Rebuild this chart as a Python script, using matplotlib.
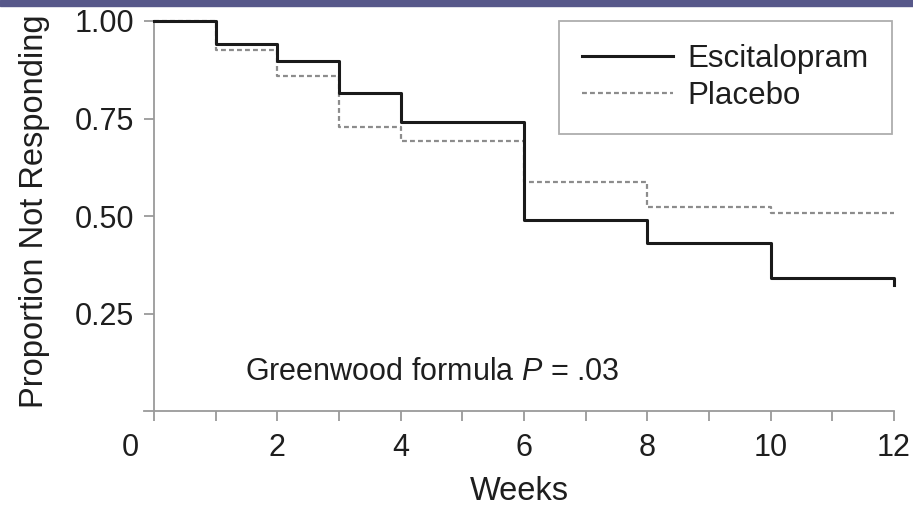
import matplotlib.pyplot as plt
from matplotlib.patches import Rectangle
from matplotlib.transforms import ScaledTranslation

plt.rcParams['font.family'] = ['Liberation Sans', 'DejaVu Sans']
plt.rcParams['mathtext.fontset'] = 'custom'
plt.rcParams['mathtext.it'] = 'Liberation Sans:italic'
plt.rcParams['mathtext.rm'] = 'Liberation Sans'

# Kaplan-Meier style step data (value holds from week until next week)
step_weeks = [0, 1, 2, 3, 4, 6, 8, 10, 12]
escitalopram = [1.00, 0.941, 0.897, 0.815, 0.740, 0.491, 0.431, 0.340, 0.322]
placebo = [1.00, 0.926, 0.859, 0.728, 0.692, 0.588, 0.524, 0.507, 0.507]

x_ticks = list(range(0, 13))
x_labels = ['0', '', '2', '', '4', '', '6', '', '8', '', '10', '', '12']
y_ticks = [0.25, 0.50, 0.75, 1.00]
y_labels = ['0.25', '0.50', '0.75', '1.00']

axis_grey = '#9a9a9a'
text_col = '#1e1e1e'

fig = plt.figure(figsize=(9.13, 5.07), dpi=100)
fig.patches.append(Rectangle((0, 1 - 6 / 507), 1, 6 / 507, transform=fig.transFigure,
                             color='#57588a', zorder=0))
ax = fig.add_axes([144 / 913, (507 - 411) / 507, 750 / 913, 390 / 507])

ax.step(step_weeks, placebo, where='post', color='#8c8c8c', lw=1.6,
        ls=(0, (2.2, 1.4)), label='Placebo', clip_on=False, zorder=2)
ax.step(step_weeks, escitalopram, where='post', color='#1a1a1a', lw=2.2,
        label='Escitalopram', clip_on=False, zorder=3)

ax.set_xlim(-0.16, 12)
ax.set_ylim(0, 1.0)

for s in ['top', 'right']:
    ax.spines[s].set_visible(False)
ax.spines['left'].set_position(('data', 0))
ax.spines['left'].set_bounds(0, 1.0)
for s in ['left', 'bottom']:
    ax.spines[s].set_color(axis_grey)
    ax.spines[s].set_linewidth(1.3)

ax.set_xticks(x_ticks)
ax.set_xticklabels(x_labels)
ax.set_yticks(y_ticks)
ax.set_yticklabels(y_labels)
ax.tick_params(axis='x', length=7.2, width=1.3, color=axis_grey, pad=8.5,
               labelsize=22, labelcolor=text_col)
ax.tick_params(axis='y', length=7.2, width=1.3, color=axis_grey, pad=7,
               labelsize=22, labelcolor=text_col)
# the "0" sits in the corner, left of the origin
zero_lab = ax.get_xticklabels()[0]
zero_lab.set_transform(zero_lab.get_transform() + ScaledTranslation(-0.24, 0, fig.dpi_scale_trans))

ax.set_xlabel('Weeks', fontsize=23.5, color=text_col, labelpad=9.5)
ax.set_ylabel('Proportion Not Responding', fontsize=23.5, color=text_col)
ax.yaxis.set_label_coords(-0.126, 0.513)

ax.text(1.48, 0.08, r'Greenwood formula $\mathit{P}$ = .03', fontsize=22,
        color=text_col, va='baseline', ha='left')

handles, labels = ax.get_legend_handles_labels()
leg = ax.legend(handles[::-1], labels[::-1], loc='upper right',
                bbox_to_anchor=(0.997, 1.0), fontsize=22.5, frameon=True,
                fancybox=False, handlelength=2.9, handletextpad=0.48,
                labelspacing=0.22, borderpad=0.74, borderaxespad=0)
leg.get_frame().set_edgecolor(axis_grey)
leg.get_frame().set_linewidth(1.3)
for t in leg.get_texts():
    t.set_color(text_col)

fig.savefig('out.png', dpi=100)
